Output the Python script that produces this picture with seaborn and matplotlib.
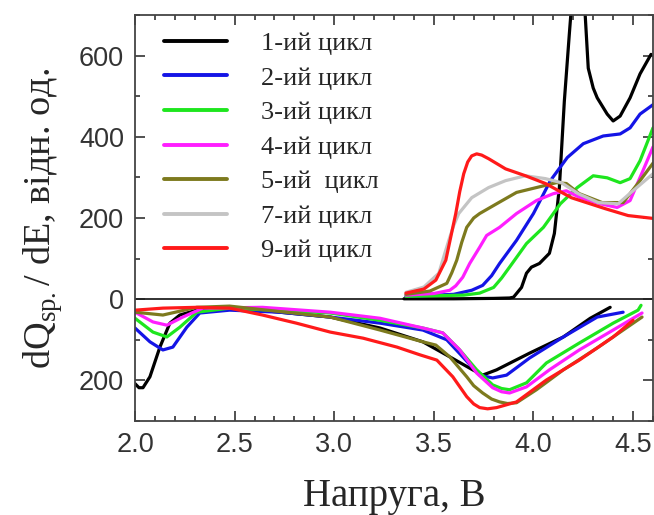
import numpy as np
import pandas as pd
import matplotlib
matplotlib.use("Agg")
import matplotlib.pyplot as plt
import seaborn as sns
from matplotlib.ticker import MultipleLocator, FixedLocator, FixedFormatter

sns.set_style("ticks")
plt.rcParams['font.family'] = ['Liberation Serif', 'DejaVu Serif']
plt.rcParams['mathtext.fontset'] = 'custom'
plt.rcParams['mathtext.rm'] = 'Liberation Serif'

labels = ["1-ий цикл", "2-ий цикл", "3-ий цикл", "4-ий цикл", "5-ий  цикл", "7-ий цикл", "9-ий цикл"]
colors = ["#000000", "#1414e6", "#1ee61e", "#ff1eff", "#7d7a1e", "#c4c4c4", "#ff1a1a"]

# charge branches (positive)
c1_v = [3.35, 3.6, 3.8, 3.88, 3.9, 3.94, 3.965, 3.99, 4.03, 4.08, 4.105, 4.13, 4.155, 4.18, 4.2, 4.215, 4.235, 4.25, 4.26, 4.275, 4.3, 4.32, 4.37, 4.4, 4.435, 4.485, 4.535, 4.59]
c1_q = [1, 1, 2, 3, 5, 29, 64, 79, 88, 113, 162, 275, 488, 653, 780, 850, 820, 740, 697, 569, 520, 496, 456, 439, 451, 496, 555, 603]
c2_v = [3.36, 3.6, 3.69, 3.745, 3.79, 3.83, 3.915, 4.0, 4.085, 4.17, 4.25, 4.35, 4.435, 4.485, 4.535, 4.6]
c2_q = [7, 12, 22, 34, 58, 88, 145, 211, 292, 349, 383, 402, 407, 422, 456, 479]
c3_v = [3.36, 3.65, 3.73, 3.8, 3.84, 3.88, 3.965, 4.05, 4.135, 4.22, 4.3, 4.37, 4.435, 4.485, 4.535, 4.6]
c3_q = [7, 10, 15, 29, 52, 79, 137, 177, 235, 275, 304, 299, 287, 297, 341, 422]
c4_v = [3.36, 3.5, 3.58, 3.61, 3.645, 3.68, 3.73, 3.765, 3.83, 3.915, 4.015, 4.1, 4.165, 4.235, 4.335, 4.42, 4.485, 4.55, 4.6]
c4_q = [10, 14, 22, 33, 54, 88, 128, 157, 177, 211, 243, 260, 267, 250, 235, 226, 243, 317, 375]
c5_v = [3.36, 3.48, 3.565, 3.59, 3.615, 3.64, 3.665, 3.70, 3.73, 3.815, 3.915, 4.015, 4.115, 4.165, 4.23, 4.345, 4.45, 4.535, 4.6]
c5_q = [12, 20, 39, 65, 96, 140, 177, 200, 211, 235, 263, 275, 287, 285, 260, 238, 238, 292, 335]
c7_v = [3.36, 3.45, 3.525, 3.55, 3.575, 3.6, 3.625, 3.69, 3.775, 3.86, 3.96, 4.06, 4.14, 4.225, 4.325, 4.425, 4.49, 4.6]
c7_q = [17, 30, 64, 105, 145, 182, 211, 250, 275, 292, 304, 297, 287, 260, 238, 235, 263, 309]
c9_v = [3.36, 3.45, 3.51, 3.56, 3.61, 3.63, 3.65, 3.67, 3.69, 3.715, 3.74, 3.775, 3.86, 3.96, 4.06, 4.19, 4.36, 4.475, 4.6]
c9_q = [15, 25, 47, 96, 211, 265, 309, 338, 353, 358, 355, 346, 321, 304, 285, 250, 223, 206, 199]

# discharge branches (negative)
d1_v = [2.0, 2.02, 2.04, 2.075, 2.125, 2.175, 2.225, 2.31, 2.475, 2.98, 3.23, 3.445, 3.58, 3.695, 3.745, 3.815, 3.98, 4.15, 4.285, 4.385]
d1_q = [-208, -218, -218, -191, -118, -59, -39, -27, -20, -44, -71, -105, -142, -174, -187, -174, -133, -93, -47, -20]
d2_v = [2.0, 2.075, 2.14, 2.19, 2.26, 2.325, 2.475, 2.725, 2.98, 3.23, 3.445, 3.565, 3.645, 3.73, 3.795, 3.865, 3.98, 4.15, 4.32, 4.45]
d2_q = [-71, -105, -125, -118, -69, -34, -27, -32, -44, -59, -76, -100, -142, -187, -194, -187, -145, -93, -44, -32]
d3_v = [2.0, 2.09, 2.16, 2.225, 2.31, 2.475, 2.98, 3.23, 3.445, 3.545, 3.63, 3.715, 3.795, 3.84, 3.88, 3.965, 4.065, 4.23, 4.4, 4.525, 4.54]
d3_q = [-47, -81, -93, -69, -32, -22, -34, -52, -71, -83, -125, -174, -211, -220, -223, -206, -157, -108, -59, -27, -15]
d4_v = [2.0, 2.09, 2.16, 2.24, 2.34, 2.64, 2.98, 3.23, 3.445, 3.545, 3.63, 3.715, 3.795, 3.84, 3.88, 3.965, 4.08, 4.23, 4.4, 4.545]
d4_q = [-32, -56, -64, -44, -22, -20, -32, -47, -71, -83, -125, -182, -218, -228, -231, -216, -174, -125, -76, -34]
d5_v = [2.0, 2.14, 2.31, 2.475, 2.98, 3.23, 3.445, 3.51, 3.58, 3.665, 3.70, 3.745, 3.79, 3.83, 3.87, 3.915, 4.015, 4.15, 4.32, 4.545]
d5_q = [-32, -39, -20, -17, -44, -76, -105, -113, -142, -191, -213, -231, -246, -253, -257, -255, -223, -174, -120, -44]
d9_v = [2.0, 2.14, 2.31, 2.475, 2.64, 2.81, 2.98, 3.145, 3.315, 3.43, 3.515, 3.595, 3.665, 3.70, 3.73, 3.77, 3.815, 3.915, 4.065, 4.23, 4.4, 4.5]
d9_q = [-27, -22, -20, -22, -39, -59, -81, -96, -118, -137, -150, -191, -240, -258, -267, -270, -267, -253, -199, -150, -93, -52]

x_ticks = [2.0, 2.5, 3.0, 3.5, 4.0, 4.5]
x_tick_labels = ["2.0", "2.5", "3.0", "3.5", "4.0", "4.5"]
y_ticks = [-200, 0, 200, 400, 600]
y_tick_labels = ["200", "0", "200", "400", "600"]

charge = [(c1_v, c1_q), (c2_v, c2_q), (c3_v, c3_q), (c4_v, c4_q), (c5_v, c5_q), (c7_v, c7_q), (c9_v, c9_q)]
discharge = [(d1_v, d1_q), (d2_v, d2_q), (d3_v, d3_q), (d4_v, d4_q), (d5_v, d5_q), None, (d9_v, d9_q)]

fig = plt.figure(figsize=(6.54, 5.15), dpi=100)
ax = fig.add_axes([135/654, 1 - 421/515, 518/654, 406/515])

ax.axhline(0, color="#222222", lw=1.3, zorder=1)

handles = []
for lab, col, ch, dis in zip(labels, colors, charge, discharge):
    df = pd.DataFrame({"V": ch[0], "Q": ch[1]})
    sns.lineplot(data=df, x="V", y="Q", color=col, lw=2.3, ax=ax, sort=False, estimator=None)
    if dis is not None:
        dd = pd.DataFrame({"V": dis[0], "Q": dis[1]})
        sns.lineplot(data=dd, x="V", y="Q", color=col, lw=2.3, ax=ax, sort=False, estimator=None)
    handles.append(plt.Line2D([], [], color=col, lw=2.8))

ax.set_xlim(2.0, 4.6)
ax.set_ylim(-300, 700)

ax.xaxis.set_major_locator(FixedLocator(x_ticks))
ax.xaxis.set_major_formatter(FixedFormatter(x_tick_labels))
ax.xaxis.set_minor_locator(MultipleLocator(0.1))
ax.yaxis.set_major_locator(FixedLocator(y_ticks))
ax.yaxis.set_major_formatter(FixedFormatter(y_tick_labels))
ax.yaxis.set_minor_locator(MultipleLocator(100))

ax.tick_params(which="both", direction="in", top=True, right=True, color="#333333", width=1.2)
ax.tick_params(which="major", length=7, labelsize=19.5, labelcolor="#333333", pad=8)
ax.tick_params(which="minor", length=3.5)
for lbl in ax.get_xticklabels() + ax.get_yticklabels():
    lbl.set_family(['Liberation Sans', 'DejaVu Sans'])
for sp in ax.spines.values():
    sp.set_color("#444444")
    sp.set_linewidth(1.3)

ax.set_xlabel("Напруга, В", fontsize=28, labelpad=14)
ax.set_ylabel(r"dQ$_{\mathrm{sp.}}$/ dE, відн. од.", fontsize=27.5, labelpad=10)

leg = ax.legend(handles, labels, loc="upper left", bbox_to_anchor=(0.035, 0.985),
                frameon=False, fontsize=19, handlelength=2.4, handletextpad=1.3,
                labelspacing=0.42, borderaxespad=0)

fig.savefig("out.png", dpi=100)
